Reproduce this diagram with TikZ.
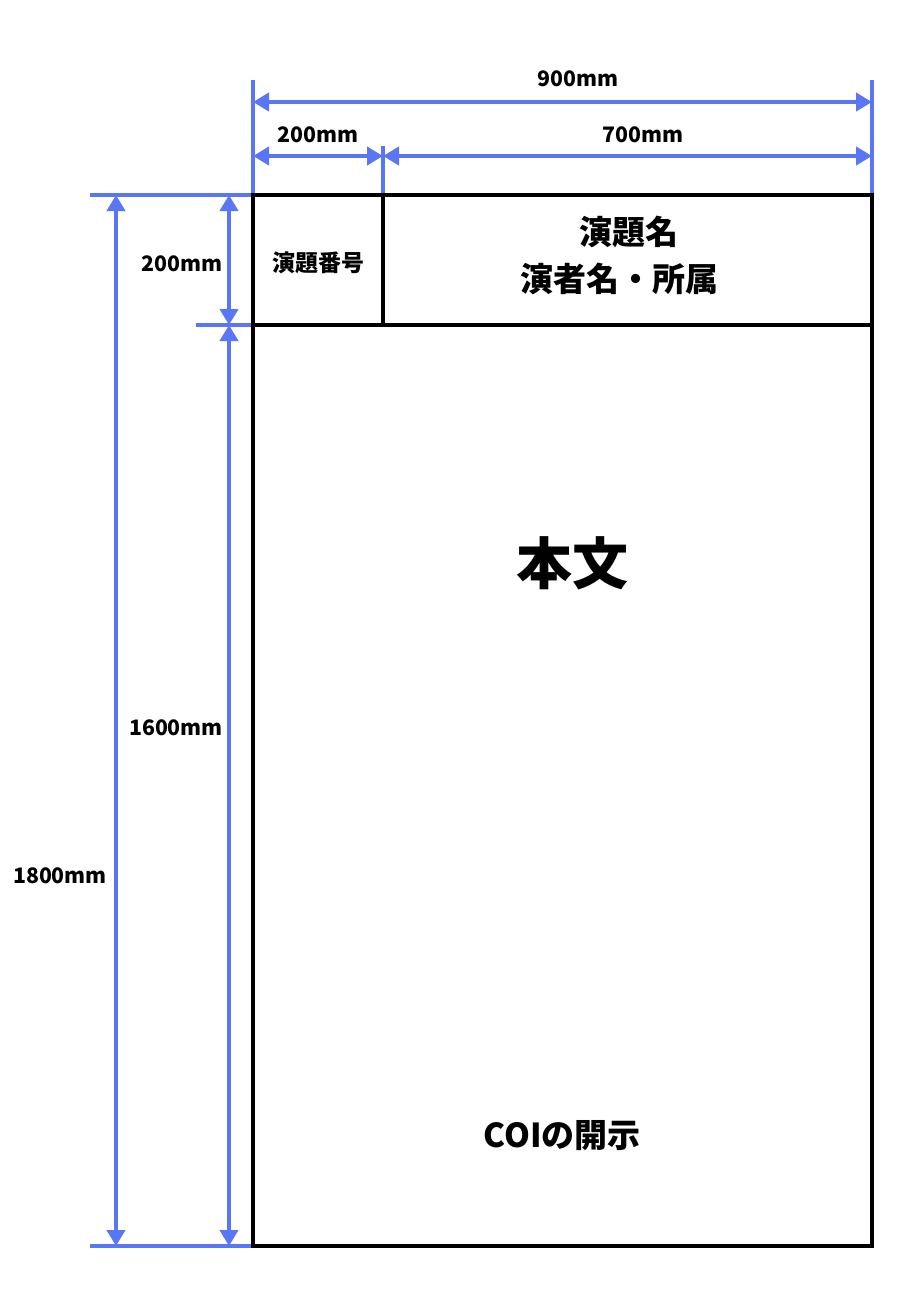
\documentclass[tikz,border=0pt]{standalone}
\usepackage{fontspec}
\setmainfont{Noto Sans CJK JP}
\usetikzlibrary{arrows.meta}
\definecolor{dimblue}{RGB}{88,118,245}
\tikzset{
  dimline/.style={draw=dimblue, line width=4pt},
  dimarrow/.style={dimline, {Triangle[width=18pt,length=16pt]}-{Triangle[width=18pt,length=16pt]}},
  extline/.style={draw=dimblue, line width=3.5pt},
  frame/.style={draw=black, line width=3.2pt},
  dimlabel/.style={font=\bfseries\fontsize{21.3}{24}\selectfont, text=black, inner sep=0pt},
  boxtext/.style={font=\bfseries\fontsize{23}{28}\selectfont, inner sep=0pt, align=center},
  titletext/.style={boxtext, font=\bfseries\fontsize{33}{40}\selectfont},
}
\begin{document}
\begin{tikzpicture}[x=1pt,y=-1pt]
\useasboundingbox[fill=white] (0,0) rectangle (900,1300);
% frame
\coordinate (TL) at (253,195);
\coordinate (TR) at (872,195);
\coordinate (BL) at (253,1246);
\coordinate (BR) at (872,1246);
\coordinate (HL) at (253,325);
\coordinate (HR) at (872,325);
\coordinate (DT) at (383,195);
\coordinate (DB) at (383,325);
% extension lines
\coordinate (e1a) at (253,80);
\coordinate (e2a) at (872,80);
\coordinate (e3a) at (383,146);
\coordinate (e4a) at (90,195);
\coordinate (e5a) at (196,325);
\coordinate (e6a) at (90,1246);
\draw[extline] (e1a) -- (TL);
\draw[extline] (e2a) -- (TR);
\draw[extline] (e3a) -- (DT);
\draw[extline] (e4a) -- (TL);
\draw[extline] (e5a) -- (HL);
\draw[extline] (e6a) -- (BL);
% dimension arrows
\coordinate (a900l) at (253,102);
\coordinate (a900r) at (872,102);
\coordinate (a200l) at (253,156);
\coordinate (a200r) at (383,156);
\coordinate (a700r) at (872,156);
\coordinate (v1800t) at (116,195);
\coordinate (v1800b) at (116,1246);
\coordinate (v200t) at (229,195);
\coordinate (v200b) at (229,325);
\coordinate (v1600b) at (229,1246);
\draw[dimarrow] (a900l) -- (a900r);
\draw[dimarrow] (a200l) -- (a200r);
\draw[dimarrow] (a200r) -- (a700r);
\draw[dimarrow] (v1800t) -- (v1800b);
\draw[dimarrow] (v200t) -- (v200b);
\draw[dimarrow] (v200b) -- (v1600b);
% labels
\node[dimlabel] (l900) at (578,79) {900mm};
\node[dimlabel] (l200h) at (318,135) {200mm};
\node[dimlabel] (l700) at (643,135) {700mm};
\node[dimlabel] (l200v) at (182,264) {200mm};
\node[dimlabel] (l1600) at (176,728) {1600mm};
\node[dimlabel] (l1800) at (60,876) {1800mm};
% frame lines
\draw[frame] (TL) rectangle (BR);
\draw[frame] (HL) -- (HR);
\draw[frame, line width=4pt] (DT) -- (DB);
% texts
\node[boxtext] (num) at (318,263) {演題番号};
\node[titletext] (title) at (629,232) {演題名};
\node[titletext] (author) at (619,279) {演者名・所属};
\node[boxtext, font=\bfseries\fontsize{56}{64}\selectfont] (body) at (572,563) {本文};
\node[boxtext, font=\bfseries\fontsize{33}{38}\selectfont] (coi) at (562,1136) {COIの開示};
\end{tikzpicture}
\end{document}
